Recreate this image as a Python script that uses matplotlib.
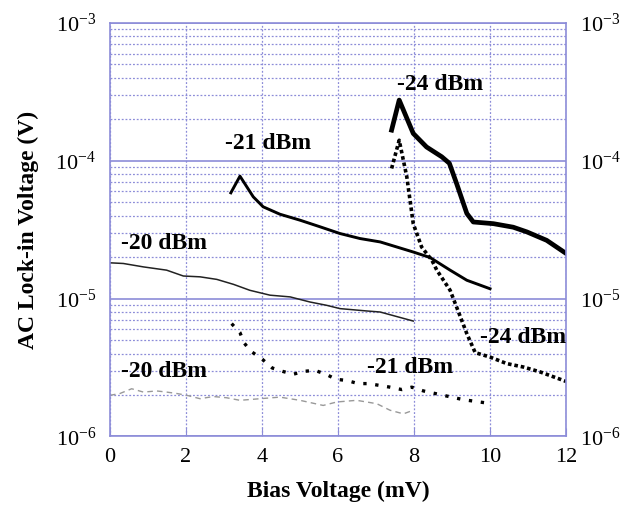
import matplotlib
matplotlib.use("Agg")
import matplotlib.pyplot as plt
import numpy as np

plt.rcParams['font.family'] = ['Liberation Serif', 'DejaVu Serif']
plt.rcParams['mathtext.fontset'] = 'custom'
plt.rcParams['mathtext.rm'] = 'Liberation Serif'

# -24 dBm, trazo grueso continuo
x24a = [7.41, 7.61, 7.98, 8.33, 8.73, 8.93, 9.12, 9.39, 9.56, 10.09, 10.61, 10.97, 11.49, 12.0]
y24a = [1.67e-4, 2.76e-4, 1.58e-4, 1.26e-4, 1.07e-4, 9.6e-5, 6.85e-5, 4.15e-5, 3.6e-5,
        3.5e-5, 3.3e-5, 3.05e-5, 2.65e-5, 2.13e-5]

# -24 dBm, punteado
x24b = [7.41, 7.61, 7.81, 7.98, 8.20, 8.47, 8.60, 8.95, 9.12, 9.39, 9.61, 10.0, 10.44,
        10.88, 11.32, 12.0]
y24b = [8.8e-5, 1.41e-4, 7.66e-5, 3.5e-5, 2.37e-5, 1.9e-5, 1.61e-5, 1.15e-5, 8.7e-6,
        5.57e-6, 4.06e-6, 3.77e-6, 3.38e-6, 3.19e-6, 2.94e-6, 2.51e-6]

# -21 dBm continuo
x21a = [3.18, 3.42, 3.77, 4.03, 4.47, 5.0, 5.53, 6.05, 6.58, 7.11, 7.98, 8.42, 8.95, 9.39, 10.0]
y21a = [5.86e-5, 7.74e-5, 5.48e-5, 4.64e-5, 4.1e-5, 3.71e-5, 3.32e-5, 2.97e-5, 2.73e-5,
        2.58e-5, 2.18e-5, 1.99e-5, 1.61e-5, 1.36e-5, 1.18e-5]

# -21 dBm punteado
x21b = [3.2, 3.42, 3.53, 3.71, 4.01, 4.27, 4.54, 4.82, 5.11, 5.39, 5.68, 5.95, 6.23, 6.53,
        6.8, 7.37, 7.68, 7.94, 8.25, 8.77, 9.30, 9.91]
y21b = [6.59e-6, 5.67e-6, 4.77e-6, 4.15e-6, 3.63e-6, 3.14e-6, 2.97e-6, 2.83e-6, 2.97e-6,
        3.02e-6, 2.83e-6, 2.60e-6, 2.55e-6, 2.42e-6, 2.42e-6, 2.28e-6, 2.19e-6, 2.28e-6,
        2.14e-6, 1.99e-6, 1.85e-6, 1.75e-6]

# -20 dBm continuo delgado
x20a = [0.0, 0.35, 0.88, 1.49, 1.93, 2.37, 2.81, 3.25, 3.68, 4.21, 4.74, 5.26, 5.7, 6.05,
        6.76, 7.11, 7.98]
y20a = [1.82e-5, 1.80e-5, 1.70e-5, 1.61e-5, 1.46e-5, 1.44e-5, 1.38e-5, 1.27e-5, 1.15e-5,
        1.06e-5, 1.03e-5, 9.46e-6, 8.95e-6, 8.47e-6, 8.14e-6, 8.0e-6, 6.88e-6]

# -20 dBm rayado gris
x20b = [0.0, 0.26, 0.57, 0.88, 1.23, 1.49, 1.76, 2.02, 2.37, 2.72, 3.07, 3.42, 3.95, 4.47,
        5.0, 5.61, 5.97, 6.49, 7.02, 7.37, 7.72, 7.98]
y20b = [1.99e-6, 2.05e-6, 2.22e-6, 2.10e-6, 2.14e-6, 2.10e-6, 2.05e-6, 1.99e-6, 1.88e-6,
        1.95e-6, 1.91e-6, 1.83e-6, 1.88e-6, 1.93e-6, 1.83e-6, 1.68e-6, 1.78e-6, 1.83e-6,
        1.73e-6, 1.55e-6, 1.46e-6, 1.55e-6]

# etiquetas: texto, x, y
etiquetas = [('-24 dBm', 8.68, 3.55e-4), ('-21 dBm', 4.17, 1.34e-4), ('-20 dBm', 1.41, 2.51e-5),
             ('-24 dBm', 10.88, 5.27e-6), ('-21 dBm', 7.89, 3.16e-6), ('-20 dBm', 1.41, 2.98e-6)]

marco = '#8c8cd8'

fig = plt.figure(figsize=(6.26, 5.11), dpi=100)
ax = fig.add_axes([0.1757, 0.1458, 0.7285, 0.8092])
ax.set_yscale('log')
ax.set_xlim(0, 12)
ax.set_ylim(1e-6, 1e-3)

# rejilla
ax.grid(True, which='major', axis='y', color=marco, lw=1.2, ls='-')
ax.grid(True, which='minor', axis='y', color=marco, lw=0.9, ls=(0, (1.5, 1.5)))
ax.grid(True, which='major', axis='x', color=marco, lw=0.9, ls=(0, (1.5, 1.5)))
ax.set_axisbelow(True)

ax.plot(x24a, y24a, color='k', lw=3.4, solid_joinstyle='round')
ax.plot(x24b, y24b, color='k', lw=2.6, ls=(0, (1, 0.8)))
ax.plot(x21a, y21a, color='k', lw=2.1)
ax.plot(x21b, y21b, color='k', lw=2.4, ls=(0, (1, 2.6)))
ax.plot(x20a, y20a, color='#222222', lw=1.1)
ax.plot(x20b, y20b, color='#999999', lw=1.0, ls=(0, (4, 3)))

for t, tx, ty in etiquetas:
    ax.text(tx, ty, t, fontsize=17, fontweight='bold', ha='center', va='center')

for s in ax.spines.values():
    s.set_color(marco)
    s.set_linewidth(1.2)

ax.set_xticks([0, 2, 4, 6, 8, 10, 12])
ax.tick_params(axis='x', direction='in', length=6, color=marco, labelsize=16, pad=8)
ax.tick_params(axis='y', which='both', length=0, labelsize=16, labelright=True, pad=10)

ax.set_xlabel('Bias Voltage (mV)', fontsize=17, fontweight='bold', labelpad=10)
ax.set_ylabel('AC Lock-in Voltage (V)', fontsize=17, fontweight='bold', labelpad=12)

fig.savefig('out.png', dpi=100)
